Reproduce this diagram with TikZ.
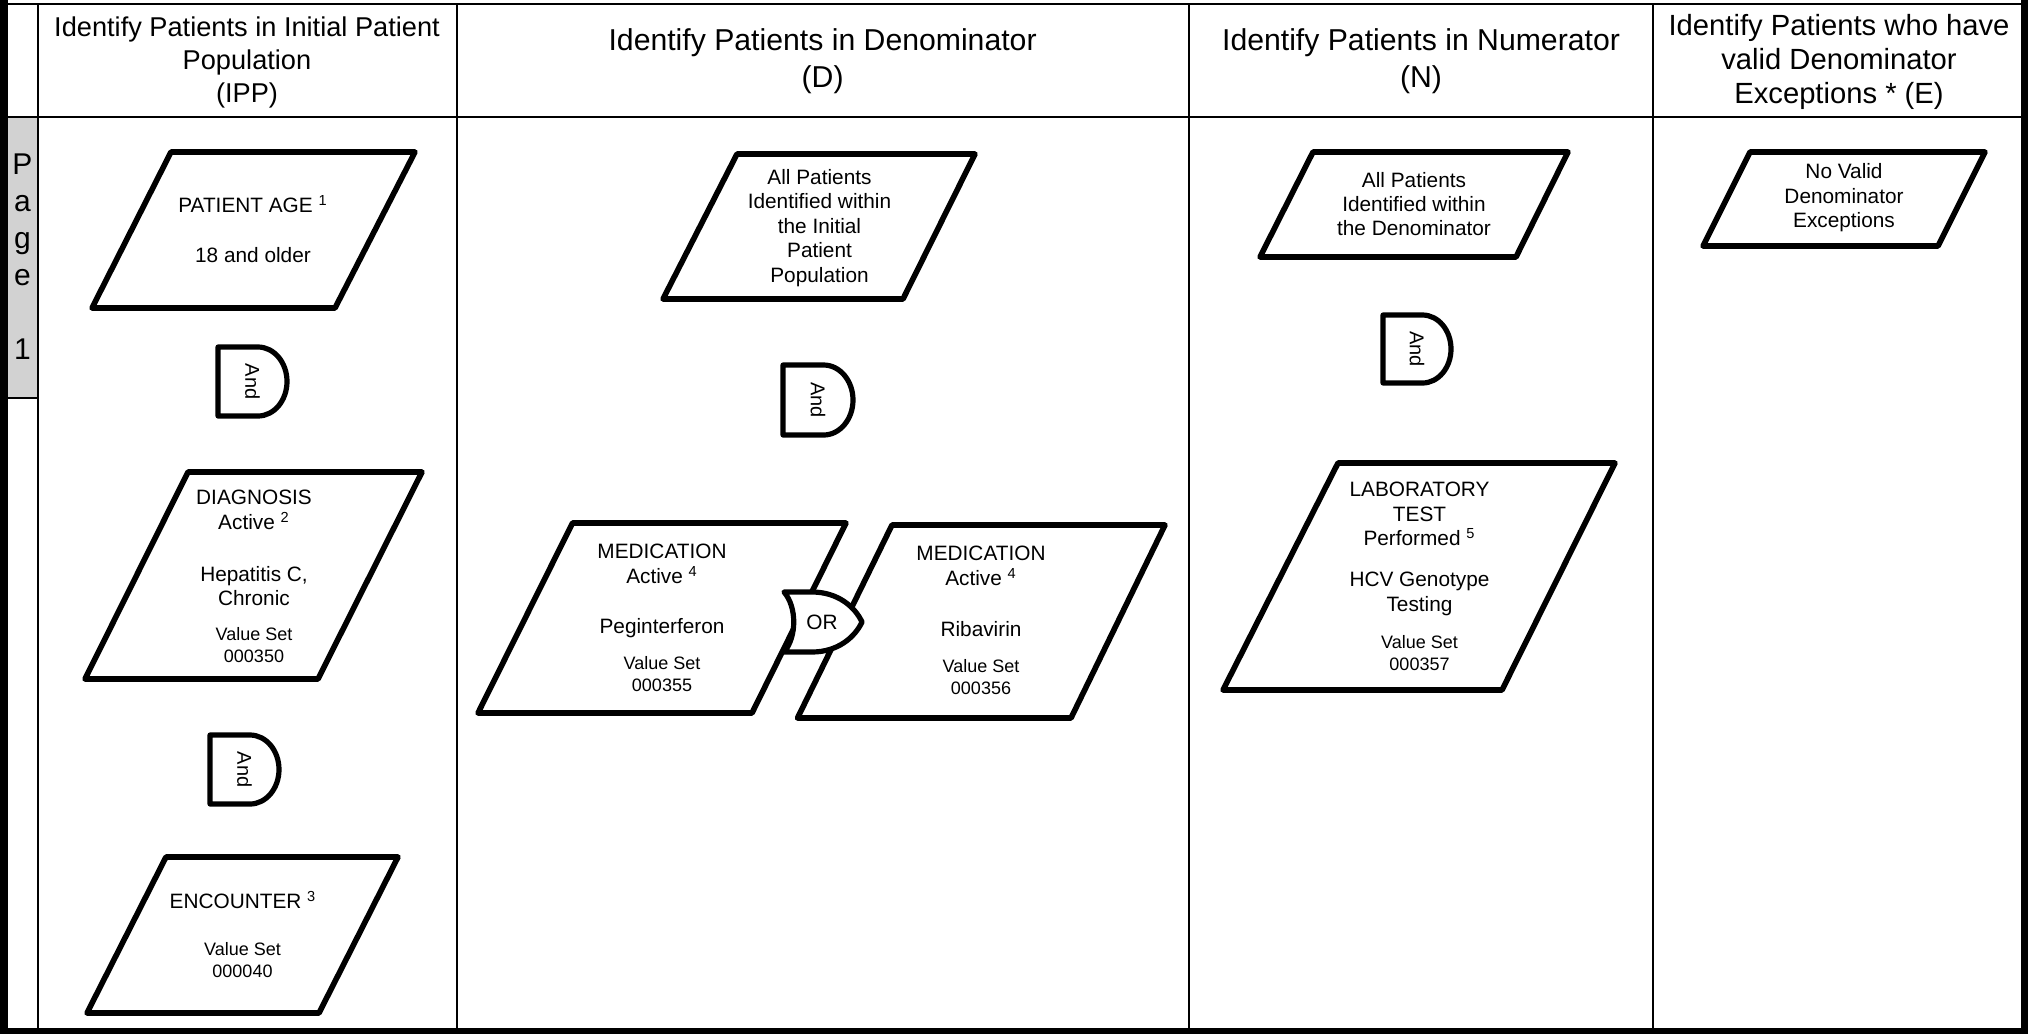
\documentclass[tikz,border=0pt]{standalone}
\usepackage{fontspec}
\setmainfont{Liberation Sans}
\newcommand{\supn}[1]{\textsuperscript{#1}}
\newcommand{\pgram}[6]{\draw[shp] (#1,#3) -- (#2,#3) -- (#5,#6) -- (#4,#6) -- cycle;}
\newcommand{\andgate}[4]{%
  \draw[gate] (#2,#3) -- ({#2+0.58*#4},#3)
    .. controls ({#2+0.58*#4+0.232*#4},#3) and ({#2+#4},{#3+0.224*#4}) .. ({#2+#4},{#3+0.5*#4})
    .. controls ({#2+#4},{#3+0.776*#4}) and ({#2+0.58*#4+0.232*#4},{#3+#4}) .. ({#2+0.58*#4},{#3+#4})
    -- (#2,{#3+#4}) -- cycle;
  \node[andtxt] (#1) at ({#2+0.5*#4},{#3+0.5*#4}) {And};}
\begin{document}
\begin{tikzpicture}[x=0.5pt,y=-0.5pt,
  shp/.style={line width=2.8pt, line join=round},
  gate/.style={line width=2.6pt, line join=round, fill=white},
  grid/.style={line width=1pt},
  body/.style={font=\fontsize{10.4}{12.2}\selectfont, align=center, inner sep=0pt},
  small/.style={font=\fontsize{9}{11}\selectfont, align=center, inner sep=0pt},
  head/.style={font=\fontsize{15.1}{18.2}\selectfont, align=center, inner sep=0pt},
  headE/.style={font=\fontsize{14.6}{17}\selectfont, align=center, inner sep=0pt},
  headA/.style={font=\fontsize{13.6}{16.5}\selectfont, align=center, inner sep=0pt},
  pagetxt/.style={font=\fontsize{15}{18.5}\selectfont, align=center, inner sep=0pt},
  andtxt/.style={font=\fontsize{10}{12}\selectfont, rotate=-90, inner sep=0pt},
]
\useasboundingbox (0,0) rectangle (2028,1034);
\fill[white] (0,0) rectangle (2028,1034);

% page label
\fill[gray!35] (8,117) rectangle (37.5,398);
\draw[grid] (8,398) -- (37.5,398);
\node[pagetxt] (page) at (22.5,257) {P\\a\\g\\e\\\mbox{}\\1};

% grid
\draw[grid] (0,4) -- (2028,4);
\draw[grid] (8,117) -- (2025,117);
\foreach \x in {37.5,456.6,1188.6,1653} \draw[grid] (\x,4) -- (\x,1030);
\fill (0,0) rectangle (8,1034);
\fill (2021,0) rectangle (2028,1034);
\fill (0,1028) rectangle (2028,1034);

% headers
\node[headA] (h1) at (247,62) {Identify Patients in Initial Patient\\Population\\(IPP)};
\node[head] (h2) at (822.6,61) {Identify Patients in Denominator\\(D)};
\node[head] (h3) at (1421,61) {Identify Patients in Numerator\\(N)};
\node[headE] (h4) at (1839,62) {Identify Patients who have\\valid Denominator\\Exceptions * (E)};

% shapes
\pgram{171}{415}{152}{92}{335}{308}
\pgram{188}{422}{472}{85}{318}{679}
\pgram{166}{398}{857}{87}{319}{1013}
\pgram{737}{975}{154}{663}{903}{299}
\pgram{572.5}{846}{523}{478}{752}{713}
\pgram{892}{1165}{525}{797.5}{1071}{718}
\pgram{1313}{1568}{152}{1260}{1516}{257}
\pgram{1338}{1615}{463}{1223}{1502}{690}
\pgram{1750}{1985}{152}{1703}{1938}{246}

% IPP texts
\node[body] (pa1) at (253,204) {PATIENT AGE \supn{1}};
\node[body] (pa2) at (253,255) {18 and older};
\node[body] (dg1) at (254,510) {DIAGNOSIS\\Active \supn{2}};
\node[body] (dg2) at (254,586) {Hepatitis C,\\Chronic};
\node[small] (dg3) at (254,645) {Value Set\\000350};
\node[body] (en1) at (243,900) {ENCOUNTER \supn{3}};
\node[small] (en2) at (242.5,960) {Value Set\\000040};

% Denominator texts
\node[body] (dap) at (819.5,228) {All Patients\\Identified within\\the Initial\\Patient\\Population};
\node[body] (ml1) at (662,564) {MEDICATION\\Active \supn{4}};
\node[body] (ml2) at (662,628) {Peginterferon};
\node[small] (ml3) at (662,674) {Value Set\\000355};
\node[body] (mr1) at (981,566) {MEDICATION\\Active \supn{4}};
\node[body] (mr2) at (981,629) {Ribavirin};
\node[small] (mr3) at (981,677) {Value Set\\000356};

% Numerator texts
\node[body] (nap) at (1414,204) {All Patients\\Identified within\\the Denominator};
\node[body] (lb1) at (1419.5,514) {LABORATORY\\TEST\\Performed \supn{5}};
\node[body] (lb2) at (1419.5,594) {HCV Genotype\\Testing};
\node[small] (lb3) at (1419.5,653) {Value Set\\000357};

% Exceptions text
\node[body] (ex) at (1844,198) {No Valid\\Denominator\\Exceptions};

% And gates
\andgate{and1}{218}{347}{69}
\andgate{and2}{210}{735}{69}
\andgate{andD}{783}{365}{70}
\andgate{andN}{1383}{315}{68}

% OR gate
\draw[gate] (784,592) -- (812,592) .. controls (838,592) and (855,607) .. (862,622)
  .. controls (855,637) and (838,652) .. (812,652) -- (784,652)
  .. controls (797,637) and (797,607) .. (784,592) -- cycle;
\node[body] (or) at (822,622) {OR};
\end{tikzpicture}
\end{document}
